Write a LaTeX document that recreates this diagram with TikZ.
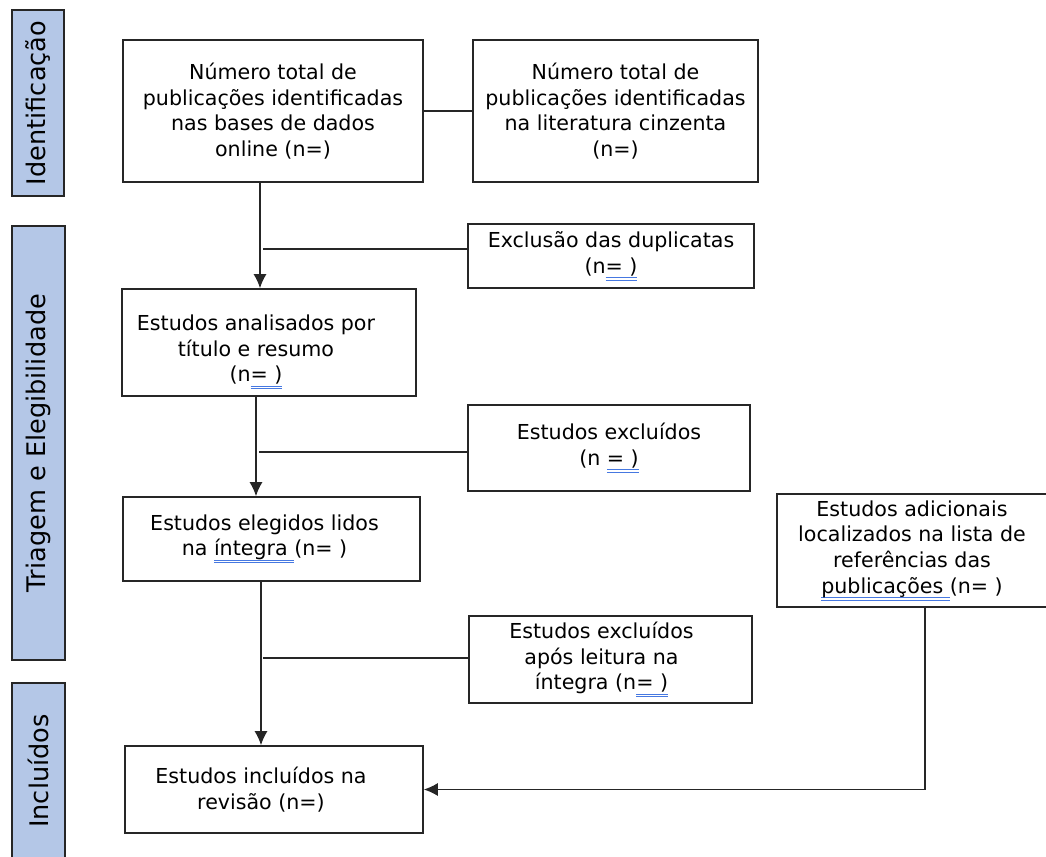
\documentclass[tikz,border=0pt]{standalone}
\usepackage{fontspec}
\setmainfont{DejaVu Sans}
\usetikzlibrary{arrows.meta}
\definecolor{sidefill}{RGB}{180,199,231}
\definecolor{splblue}{RGB}{70,120,225}
\newsavebox\splbox
\newcommand{\spl}[1]{\sbox\splbox{#1}\rlap{\raisebox{-2.4pt}{\textcolor{splblue}{\rule{\wd\splbox}{0.45pt}}}}\rlap{\raisebox{-3.7pt}{\textcolor{splblue}{\rule{\wd\splbox}{0.45pt}}}}\usebox\splbox}
\newcommand{\pad}[1]{\hspace*{#1}\mbox{}}

\begin{document}
\begin{tikzpicture}[x=0.5pt, y=-0.5pt, >={Latex[length=7pt,width=6.5pt]},
  box/.style={draw=black!85, line width=0.8pt, align=center, inner sep=2pt, font=\fontsize{10.3}{12.8}\selectfont},
  side/.style={draw=black!85, line width=0.8pt, fill=sidefill, rotate=90, font=\fontsize{12.8}{14}\selectfont},
  link/.style={black!85, line width=0.7pt}]

\useasboundingbox (0,0) rectangle (1046,857);

% fases
\node[side, minimum width=93pt, minimum height=26pt] (fase1) at (38,103) {Identificação};
\node[side, minimum width=217pt, minimum height=26.5pt] (fase2) at (38.5,443) {Triagem e Elegibilidade};
\node[side, minimum width=88pt, minimum height=26.5pt] (fase3) at (38.5,771) {Incluídos};

% caixas
\node[box, minimum width=150pt, minimum height=71pt] (bases) at (273,111)
  {Número total de\\publicações identificadas\\nas bases de dados\\online (n=)};
\node[box, minimum width=142.5pt, minimum height=71pt] (cinzenta) at (615.5,111)
  {Número total de\\publicações identificadas\\na literatura cinzenta\\(n=)};
\node[box, minimum width=143pt, minimum height=32pt] (duplicatas) at (611,256)
  {Exclusão das duplicatas\\(n\spl{= )}};
\node[box, minimum width=147pt, minimum height=53.5pt] (triagem) at (269,342.5)
  {\rule{0pt}{17.5pt}Estudos analisados por\pad{13pt}\\título e resumo\pad{13pt}\\(n\spl{= )}\pad{13pt}};
\node[box, minimum width=141pt, minimum height=43pt] (excl1) at (609,448)
  {Estudos excluídos\\(n \spl{= )}};
\node[box, minimum width=148.5pt, minimum height=42pt] (elegidos) at (271.5,539)
  {Estudos elegidos lidos\pad{7pt}\\na \spl{íntegra }(n= )\pad{7pt}};
\node[box, minimum width=141.5pt, minimum height=43.5pt] (excl2) at (610.5,659.5)
  {Estudos excluídos\pad{9pt}\\após leitura na\pad{9pt}\\íntegra (n\spl{= )}\pad{9pt}};
\node[box, minimum width=138pt, minimum height=56.5pt] (adicionais) at (915,550.5)
  {Estudos adicionais\pad{3pt}\\localizados na lista de\pad{3pt}\\referências das\pad{3pt}\\\spl{publicações }(n= )\pad{3pt}};
\node[box, minimum width=149pt, minimum height=43.5pt] (incluidos) at (274,789.5)
  {Estudos incluídos na\pad{13pt}\\revisão (n=)\pad{13pt}};

% ligacoes
\coordinate (c1) at (260,249);
\coordinate (c2) at (256,452);
\coordinate (c3) at (261,658);
\coordinate (c4) at (925,0);

\draw[link] (bases.east) -- (cinzenta.west);
\draw[link,->] (bases.south -| c1) -- (triagem.north -| c1);
\draw[link] ([xshift=1.5pt]c1) -- (c1 -| duplicatas.west);
\draw[link,->] (triagem.south -| c2) -- (elegidos.north -| c2);
\draw[link] ([xshift=1.5pt]c2) -- (c2 -| excl1.west);
\draw[link,->] (elegidos.south -| c3) -- (incluidos.north -| c3);
\draw[link] ([xshift=1pt]c3) -- (c3 -| excl2.west);
\draw[link,->] (adicionais.south -| c4) |- (incluidos.east);

\end{tikzpicture}
\end{document}
